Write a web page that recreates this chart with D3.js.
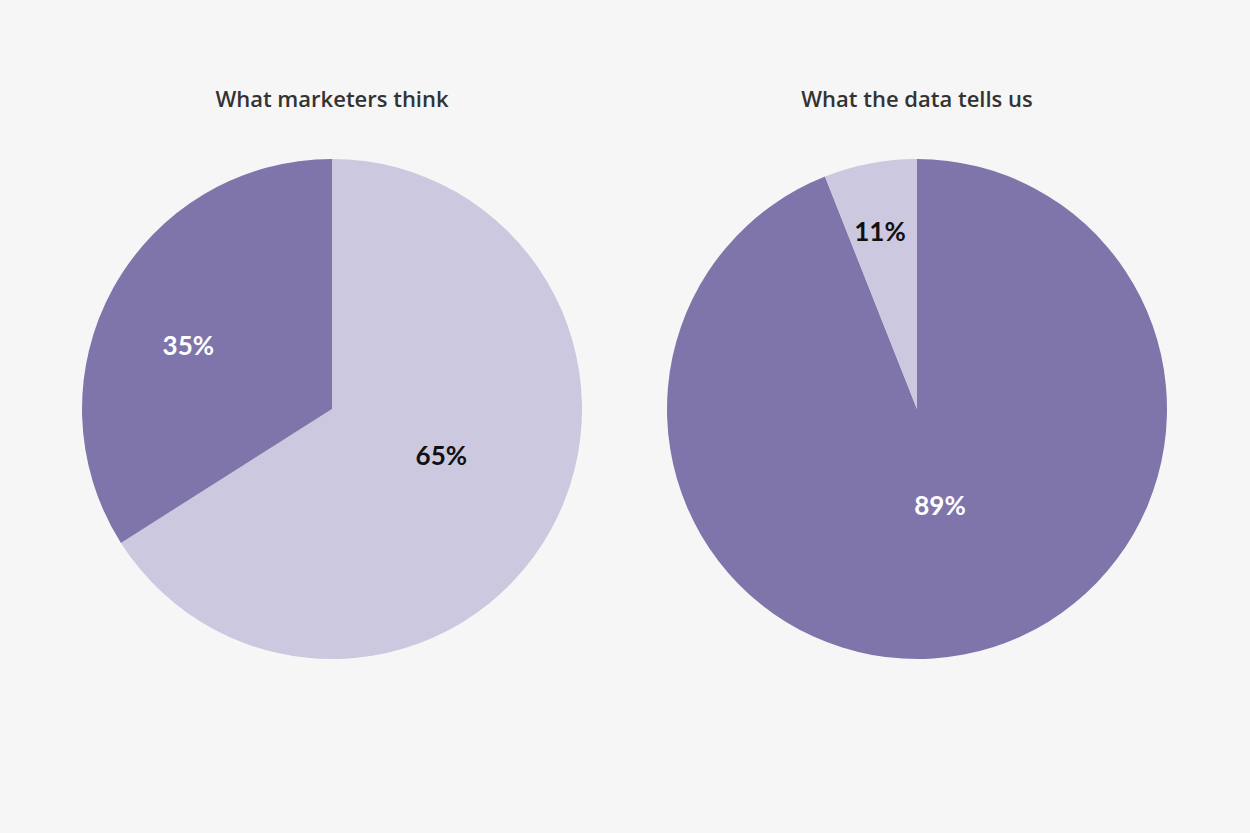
<!DOCTYPE html>
<html><head><meta charset="utf-8">
<script src="https://cdn.jsdelivr.net/npm/d3@7"></script>
<style>
html,body{margin:0;padding:0;background:#f6f6f6;}
svg{display:block;}
</style></head>
<body>
<svg id="chart" width="1250" height="833"></svg>
<script>
// ---- data ----
const titles = ["What marketers think", "What the data tells us"];
// left pie, drawn clockwise from 12 o'clock (wedge sizes as drawn)
const leftValues = [66, 34];
const leftLabels = ["65%", "35%"];
const leftColors = ["#ccc8df", "#8075ab"];
// right pie (wedge sizes as drawn in the picture)
const rightValues = [94, 6];
const rightLabels = ["89%", "11%"];
const rightColors = ["#8075ab", "#ccc8df"];
const leftLabelColors = ["#111111", "#ffffff"];
const rightLabelColors = ["#ffffff", "#111111"];

// ---- layout config ----
const W = 1250, H = 833;
const R = 250;
const centers = [[332, 409], [917, 409]];
// label placement: fraction of radius, angular shift (degrees) from wedge middle
const labelRadius = [[0.476, 0.628], [0.40, 0.724]];
const labelShift = [[-5.5, -5.0], [-2.5, -1.0]];

const svg = d3.select("#chart");
svg.append("rect").attr("width", W).attr("height", H).attr("fill", "#f6f6f6");

const pie = d3.pie().sort(null).value(d => d);
const arc = d3.arc().innerRadius(0).outerRadius(R);

const pies = [
  {values: leftValues, labels: leftLabels, colors: leftColors, lcolors: leftLabelColors},
  {values: rightValues, labels: rightLabels, colors: rightColors, lcolors: rightLabelColors}
];

pies.forEach((p, i) => {
  const g = svg.append("g").attr("transform", `translate(${centers[i][0]},${centers[i][1]})`);
  const arcs = pie(p.values);
  g.selectAll("path").data(arcs).join("path")
    .attr("d", arc)
    .attr("fill", (d, j) => p.colors[j]);
  g.selectAll("text.lbl").data(arcs).join("text")
    .attr("class", "lbl")
    .attr("transform", (d, j) => {
      const rr = R * labelRadius[i][j];
      const a = (d.startAngle + d.endAngle) / 2 + labelShift[i][j] * Math.PI / 180;
      return `translate(${rr * Math.sin(a)},${-rr * Math.cos(a) + 9})`;
    })
    .attr("text-anchor", "middle")
    .attr("font-family", "Lato, 'Open Sans', sans-serif")
    .attr("font-weight", 700)
    .attr("font-size", 26)
    .attr("fill", (d, j) => p.lcolors[j])
    .text((d, j) => p.labels[j]);
  svg.append("text")
    .attr("x", centers[i][0])
    .attr("y", 107)
    .attr("text-anchor", "middle")
    .attr("font-family", "'Open Sans', Lato, sans-serif")
    .attr("font-weight", 600)
    .attr("font-size", 22)
    .attr("fill", "#333333")
    .text(titles[i]);
});
</script>
</body></html>
